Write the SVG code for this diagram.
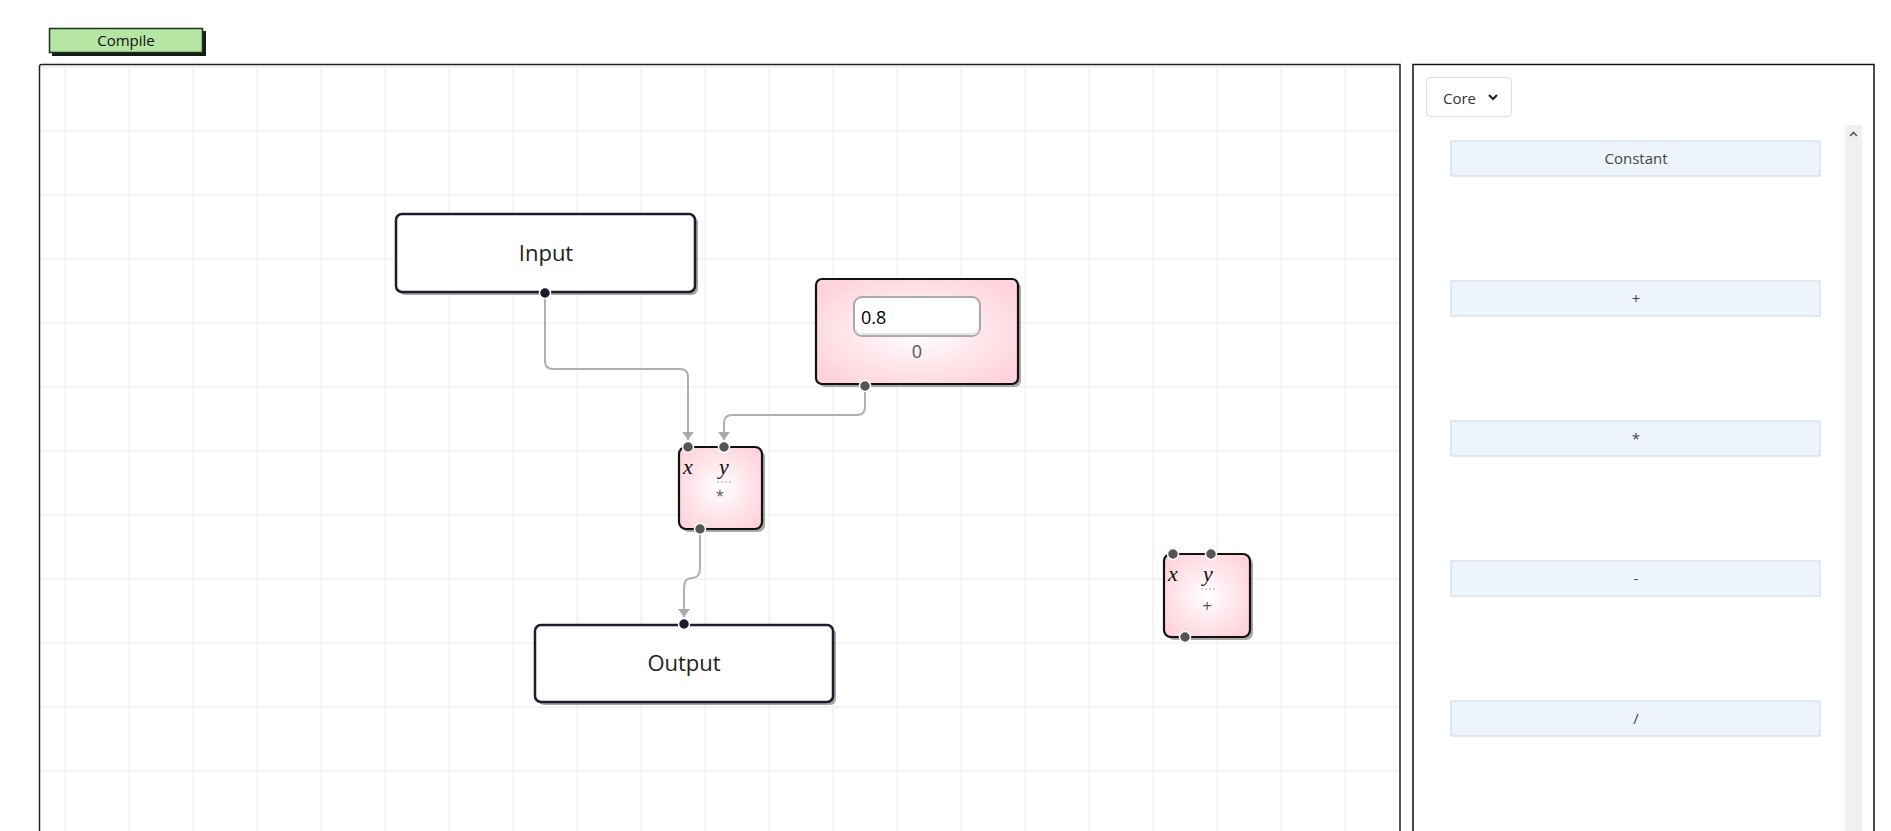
<svg xmlns="http://www.w3.org/2000/svg" width="1891" height="831" viewBox="0 0 1891 831">
<style>
.ui{font-family:"Open Sans","Noto Sans",sans-serif;}
.node{fill:#fff;stroke:#1c1c2c;stroke-width:2.5;}
.shadow{fill:#8a8a8a;opacity:0.75;}
.pnode{fill:url(#pink);stroke:#111;stroke-width:2.2;}
.conn{fill:none;stroke:#b0b0b0;stroke-width:2;}
.port{fill:#555;stroke:#fff;stroke-width:1.5;}
.portd{fill:#1c1c2c;stroke:#fff;stroke-width:1.5;}
.pal{fill:#edf4fb;stroke:#d3dce6;stroke-width:1.2;}
.paltxt{font-size:15px;fill:#444;text-anchor:middle;}
.var{font-family:"Liberation Serif","DejaVu Serif",serif;font-style:italic;font-size:22px;fill:#111;}
</style>
<defs>
<pattern id="grid" patternUnits="userSpaceOnUse" x="64" y="66" width="64" height="64">
<path d="M1 0V64M0 1H64" stroke="#f4f4f4" stroke-width="2" fill="none"/>
</pattern>
<radialGradient id="pink" cx="50%" cy="50%" r="60%">
<stop offset="0" stop-color="#ffffff"/>
<stop offset="1" stop-color="#ffd3dc"/>
</radialGradient>
<marker id="arr" viewBox="0 0 8 12" refX="8" refY="6" markerWidth="8" markerHeight="12" markerUnits="userSpaceOnUse" orient="auto">
<path d="M0 0L8 6L0 12Z" fill="#aaa"/>
</marker>
</defs>
<rect width="1891" height="831" fill="#fff"/>

<g id="compile">
<rect x="52" y="31" width="154" height="25" fill="#1a1a1a"/>
<rect x="49.5" y="28.5" width="153" height="24" fill="#b5e5a3" stroke="#16361a" stroke-width="1.5"/>
<text class="ui" x="126" y="46" font-size="15" fill="#111" text-anchor="middle">Compile</text>
</g>

<g id="canvas">
<rect x="40" y="65" width="1360" height="780" fill="url(#grid)"/>
<path d="M39.5 831V66.5Q39.5 64.5 41.5 64.5H1400V831" fill="none" stroke="#222" stroke-width="1.5"/>
</g>

<g id="connectors">
<path class="conn" d="M545 296V361Q545 369 553 369H680Q688 369 688 377V440" marker-end="url(#arr)"/>
<path class="conn" d="M865 389V407Q865 415 857 415H732Q724 415 724 423V440" marker-end="url(#arr)"/>
<path class="conn" d="M700 532V568Q700 578 692 578Q684 578 684 588V617" marker-end="url(#arr)"/>
</g>

<g id="node-input">
<rect class="shadow" x="399" y="217" width="299" height="78" rx="6"/>
<rect class="node" x="396" y="214" width="299" height="78" rx="6"/>
<text class="ui" x="546" y="261" font-size="22" fill="#222" text-anchor="middle">Input</text>
<circle class="portd" cx="545" cy="293" r="5.5"/>
</g>

<g id="node-constant">
<rect class="shadow" x="819" y="282" width="202" height="105" rx="6"/>
<rect class="pnode" x="816" y="279" width="202" height="105" rx="6"/>
<rect x="854" y="297" width="126" height="39" rx="8" fill="#fff" stroke="#aaa" stroke-width="2"/>
<path d="M856 330Q857 334 862 334H972Q977 334 978 330" fill="none" stroke="#e6e6e6" stroke-width="2"/>
<text class="ui" x="861" y="324" font-size="18" fill="#000">0.8</text>
<text class="ui" x="917" y="358" font-size="18" fill="#555" text-anchor="middle">0</text>
<circle class="port" cx="865" cy="386" r="5.5"/>
</g>

<g id="node-multiply">
<rect class="shadow" x="682" y="450" width="83" height="82" rx="7"/>
<rect class="pnode" x="679" y="447" width="83" height="82" rx="7"/>
<text class="var" x="683" y="474">x</text>
<text class="var" x="719" y="474">y</text>
<path d="M717 482H731" stroke="#aaa" stroke-width="1.2" stroke-dasharray="2 2"/>
<text class="ui" x="720" y="501" font-size="15" fill="#555" text-anchor="middle">*</text>
<circle class="port" cx="688" cy="447" r="5.5"/>
<circle class="port" cx="724" cy="447" r="5.5"/>
<circle class="port" cx="700" cy="529" r="5.5"/>
</g>

<g id="node-plus">
<rect class="shadow" x="1167" y="557" width="86" height="83" rx="7"/>
<rect class="pnode" x="1164" y="554" width="86" height="83" rx="7"/>
<text class="var" x="1168" y="581">x</text>
<text class="var" x="1203" y="581">y</text>
<path d="M1201 589H1215" stroke="#aaa" stroke-width="1.2" stroke-dasharray="2 2"/>
<text class="ui" x="1207" y="612" font-size="17" fill="#555" text-anchor="middle">+</text>
<circle class="port" cx="1173" cy="554" r="5.5"/>
<circle class="port" cx="1211" cy="554" r="5.5"/>
<circle class="port" cx="1185" cy="637" r="5.5"/>
</g>

<g id="node-output">
<rect class="shadow" x="538" y="628" width="298" height="77" rx="6"/>
<rect class="node" x="535" y="625" width="298" height="77" rx="6"/>
<text class="ui" x="684" y="671" font-size="22" fill="#222" text-anchor="middle">Output</text>
<circle class="portd" cx="684" cy="624" r="5.5"/>
</g>

<g id="panel">
<path d="M1413 831V64.5H1874V831" fill="none" stroke="#111" stroke-width="1.5"/>
<rect x="1426.5" y="77.5" width="85" height="39" rx="4" fill="#fff" stroke="#ddd" stroke-width="1"/>
<text class="ui" x="1443" y="104" font-size="15" fill="#333">Core</text>
<path d="M1489 95L1493 99L1497 95" fill="none" stroke="#222" stroke-width="2.2"/>
<rect x="1845" y="125" width="17" height="706" fill="#f0f0f0"/>
<path d="M1850 136L1853.5 132.5L1857 136" fill="none" stroke="#555" stroke-width="1.6"/>
</g>

<g id="pal-constant"><rect class="pal" x="1451" y="141" width="369" height="35"/><text class="ui paltxt" x="1636" y="164">Constant</text></g>
<g id="pal-plus"><rect class="pal" x="1451" y="281" width="369" height="35"/><text class="ui paltxt" x="1636" y="304">+</text></g>
<g id="pal-mul"><rect class="pal" x="1451" y="421" width="369" height="35"/><text class="ui paltxt" x="1636" y="444">*</text></g>
<g id="pal-minus"><rect class="pal" x="1451" y="561" width="369" height="35"/><text class="ui paltxt" x="1636" y="584">-</text></g>
<g id="pal-div"><rect class="pal" x="1451" y="701" width="369" height="35"/><text class="ui paltxt" x="1636" y="724">/</text></g>
</svg>
